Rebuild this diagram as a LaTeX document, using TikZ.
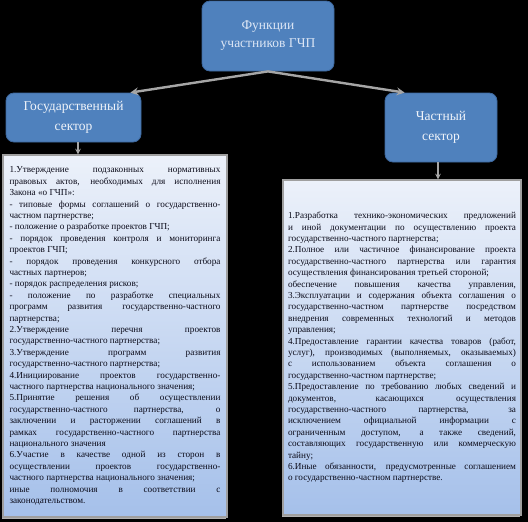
\documentclass[tikz,border=0pt]{standalone}
\usepackage{fontspec}
\setmainfont{Liberation Serif}
\usetikzlibrary{shadows}

\hyphenpenalty=10000
\exhyphenpenalty=10000
\tolerance=10000
\hbadness=10000

\tikzset{
  headbox/.style = {draw=HeadLine, fill=HeadBlue, rounded corners=8pt, line width=0.8pt,
                    text=HeadText, align=center, inner sep=0,
                    font=\fontsize{13.5}{20}\selectfont},
  listbox/.style = {draw=gray!75, line width=1.2pt, top color=ListTop, bottom color=ListBottom,
                    drop shadow={shadow xshift=-1.5pt, shadow yshift=-2pt, fill=gray!60, opacity=1},
                    align=justify, inner ysep=0, text=ListText,
                    font=\fontsize{9.2}{11.4}\selectfont},
  conn/.style    = {draw=gray!70, line width=2.4pt},
}

\begin{document}
\begin{tikzpicture}[x=1pt, y=1pt]
    \definecolor{HeadBlue}{RGB}{79,129,189}
    \definecolor{HeadLine}{RGB}{62,104,158}
    \definecolor{HeadText}{RGB}{240,244,250}
    \definecolor{TopText}{RGB}{220,230,245}
    \definecolor{ListTop}{RGB}{236,241,250}
    \definecolor{ListBottom}{RGB}{165,192,234}
    \definecolor{ListText}{RGB}{10,10,25}
    \fill [black] (0.0,0.0) rectangle (528.0,-522.0);
    \useasboundingbox (0.0,0.0) rectangle (528.0,-522.0);

    \node (ID_Funk) [headbox, minimum width=132pt, minimum height=70pt, text=TopText,
                     font=\fontsize{13.5}{18}\selectfont] at (268.0,-36.0) {Функции\\участников ГЧП};
    \node (ID_Gos) [headbox, minimum width=135pt, minimum height=49pt] at (73.5,-117.5) {Государственный\\сектор};
    \node (ID_Chast) [headbox, minimum width=112pt, minimum height=69pt] at (441.0,-127.5) {Частный\\сектор};

    \node (ID_GosList) [listbox, text width=211pt, inner xsep=6.5pt, minimum height=362pt] at (115.0,-336.0) {%
1.Утверждение подзаконных нормативных\linebreak правовых актов, необходимых для исполнения\linebreak Закона «о ГЧП»:\par
- типовые формы соглашений о государственно-\linebreak частном партнерстве;\par
- положение о разработке проектов ГЧП;\par
- порядок проведения контроля и мониторинга\linebreak проектов ГЧП;\par
- порядок проведения конкурсного отбора\linebreak частных партнеров;\par
- порядок распределения рисков;\par
- положение по разработке специальных\linebreak программ развития государственно-частного\linebreak партнерства;\par
2.Утверждение перечня проектов\linebreak государственно-частного партнерства;\par
3.Утверждение программ развития\linebreak государственно-частного партнерства;\par
4.Инициирование проектов государственно-\linebreak частного партнерства национального значения;\par
5.Принятие решения об осуществлении\linebreak государственно-частного партнерства, о\linebreak заключении и расторжении соглашений в\linebreak рамках государственно-частного партнерства\linebreak национального значения\par
6.Участие в качестве одной из сторон в\linebreak осуществлении проектов государственно-\linebreak частного партнерства национального значения;\par
иные полномочия в соответствии с\linebreak законодательством.};

    \node (ID_ChastList) [listbox, text width=228pt, inner xsep=5pt, minimum height=335pt] at (402.0,-347.5) {%
1.Разработка технико-экономических предложений\linebreak и иной документации по осуществлению проекта\linebreak государственно-частного партнерства;\par
2.Полное или частичное финансирование проекта\linebreak государственно-частного партнерства или гарантия\linebreak осуществления финансирования третьей стороной;\par
{\parfillskip=0pt обеспечение повышения качества управления,\par}
3.Эксплуатации и содержания объекта соглашения о\linebreak государственно-частном партнерстве посредством\linebreak внедрения современных технологий и методов\linebreak управления;\par
4.Предоставление гарантии качества товаров (работ,\linebreak услуг), производимых (выполняемых, оказываемых)\linebreak с использованием объекта соглашения о\linebreak государственно-частном партнерстве;\par
5.Предоставление по требованию любых сведений и\linebreak документов, касающихся осуществления\linebreak государственно-частного партнерства, за\linebreak исключением официальной информации с\linebreak ограниченным доступом, а также сведений,\linebreak составляющих государственную или коммерческую\linebreak тайну;\par
6.Иные обязанности, предусмотренные соглашением\linebreak о государственно-частном партнерстве.};

    % connectors
    \draw [-stealth, conn] (ID_Funk.south) -- ([xshift=-11pt]ID_Gos.north east);
    \draw [-stealth, conn] (ID_Funk.south) -- ([xshift=20pt]ID_Chast.north west);
    \coordinate (GosOut) at ([xshift=4.5pt]ID_Gos.south);
    \coordinate (ChastOut) at ([xshift=-3pt]ID_Chast.south);
    \draw [-stealth, conn, line width=1.5pt] (GosOut) -- (GosOut |- ID_GosList.north);
    \draw [-stealth, conn, line width=1.5pt] (ChastOut) -- (ChastOut |- ID_ChastList.north);
\end{tikzpicture}
\end{document}
